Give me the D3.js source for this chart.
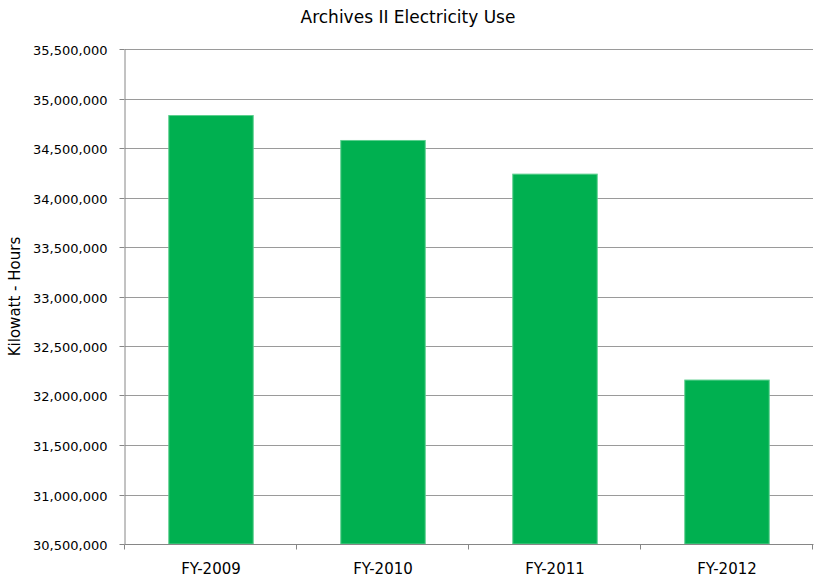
<!DOCTYPE html>
<html><head><meta charset="utf-8">
<script src="https://cdn.jsdelivr.net/npm/d3@7"></script>
<style>
html,body{margin:0;padding:0;background:#fff;}
text{font-family:"DejaVu Sans",Verdana,sans-serif;fill:#000;}
</style></head>
<body>
<svg id="chart" width="817" height="582"></svg>
<script>
const categories = ["FY-2009", "FY-2010", "FY-2011", "FY-2012"];
const values = [34828000, 34576000, 34236000, 32156000];
const yTicks = [30500000, 31000000, 31500000, 32000000, 32500000, 33000000, 33500000, 34000000, 34500000, 35000000, 35500000];
const title = "Archives II Electricity Use";
const yTitle = "Kilowatt - Hours";

const svg = d3.select("#chart");
const pLeft = 125, pRight = 813, pTop = 49, pBottom = 544;

const x = d3.scaleBand().domain(categories).range([pLeft, pRight]).paddingInner(0.509).paddingOuter(0.2545);
const xc = d3.scaleBand().domain(categories).range([pLeft, pRight]).padding(0);
const y = d3.scaleLinear().domain([30500000, 35500000]).range([pBottom, pTop]);
const crisp = v => Math.round(v) + 0.5;

// gridlines
svg.append("g").selectAll("line").data(yTicks.slice(1)).join("line")
  .attr("x1", pLeft).attr("x2", pRight)
  .attr("y1", d => crisp(y(d))).attr("y2", d => crisp(y(d)))
  .attr("stroke", "#9a9a9a").attr("stroke-width", 1);

// bars
svg.append("g").selectAll("rect").data(values).join("rect")
  .attr("x", (d, i) => x(categories[i]))
  .attr("width", x.bandwidth())
  .attr("y", d => y(d))
  .attr("height", d => y(30500000) - y(d))
  .attr("fill", "#00B050")
  .attr("stroke", "#5ccf8e").attr("stroke-width", 1);

// y axis
const yAxis = d3.axisLeft(y).tickValues(yTicks).tickSize(5).tickPadding(12)
  .tickFormat(d3.format(","));
const gy = svg.append("g").attr("transform", `translate(${crisp(pLeft)-1},0)`).call(yAxis);
gy.selectAll("line").attr("stroke", "#868686");
gy.selectAll(".tick").attr("transform", d => `translate(0,${crisp(y(d))})`);
gy.select(".domain").attr("stroke", "#868686").attr("d", `M0.5,${pTop}V${pBottom+1}`);
gy.selectAll("text").attr("font-size", 13).attr("font-family", "DejaVu Sans").attr("dy", "0.4em").attr("x", -17);

// x axis (category boundaries)
const gx = svg.append("g").attr("transform", `translate(0,${crisp(pBottom)})`);
gx.append("line").attr("x1", pLeft).attr("x2", pRight + 0.5).attr("y1", 0).attr("y2", 0).attr("stroke", "#868686");
const bounds = categories.map(c => xc(c)).concat([pRight]);
gx.selectAll("line.tk").data(bounds).join("line").attr("class", "tk")
  .attr("x1", d => crisp(d) - 1).attr("x2", d => crisp(d) - 1).attr("y1", 0).attr("y2", 5)
  .attr("stroke", "#868686");
gx.selectAll("text").data(categories).join("text")
  .attr("x", d => xc(d) + xc.bandwidth() / 2).attr("y", 29.5)
  .attr("text-anchor", "middle").attr("font-size", 15).text(d => d);

// title
svg.append("text").attr("x", 408).attr("y", 22.5).attr("text-anchor", "middle")
  .attr("font-size", 17).text(title);

// y title
svg.append("text").attr("transform", `translate(20,${(pTop + pBottom) / 2}) rotate(-90)`)
  .attr("text-anchor", "middle").attr("font-size", 15).text(yTitle);
</script>
</body></html>
